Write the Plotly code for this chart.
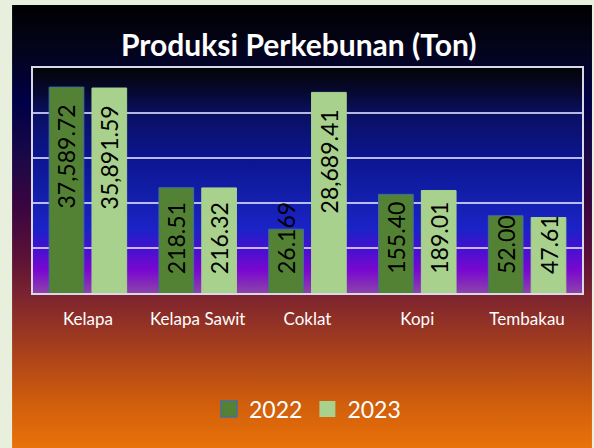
import base64
import math
import plotly.graph_objects as go

# ---------------- data ----------------
categories = ["Kelapa", "Kelapa Sawit", "Coklat", "Kopi", "Tembakau"]
values_2022 = [37589.72, 218.51, 26.169, 155.40, 52.00]
values_2023 = [35891.59, 216.32, 28689.41, 189.01, 47.61]
labels_2022 = ["37,589.72", "218.51", "26.169", "155.40", "52.00"]
labels_2023 = ["35,891.59", "216.32", "28,689.41", "189.01", "47.61"]
series_names = ["2022", "2023"]

# ---------------- styles ----------------
W, H = 594, 448
ML, MR, MT, MB = 33, 10, 68, 155
PW, PH = W - ML - MR, H - MT - MB
C2022, C2022_LINE = "#548235", "#41719C"
C2023 = "#A9D18E"
FONT = "Lato"
LABEL_SIZE = 23
BARGAP, BARGROUPGAP = 0.22, 0.19
DECADES = 5
PAD_TOP, PAD_BOT = 16, 18


def grad_uri(stops):
    s = "".join('<stop offset="%s" stop-color="%s"/>' % (o, c) for o, c in stops)
    svg = ('<svg xmlns="http://www.w3.org/2000/svg" width="10" height="100" '
           'viewBox="0 0 10 100" preserveAspectRatio="none"><defs>'
           '<linearGradient id="g" x1="0" y1="0" x2="0" y2="1">' + s +
           '</linearGradient></defs><rect width="10" height="100" fill="url(#g)"/></svg>')
    return "data:image/svg+xml;base64," + base64.b64encode(svg.encode()).decode()


chart_grad = grad_uri([
    ("0", "#000000"), ("0.1", "#04041c"), ("0.22", "#000048"), ("0.34", "#1a0848"),
    ("0.45", "#380540"), ("0.56", "#581038"), ("0.65", "#7a2230"),
    ("0.78", "#a8401c"), ("0.9", "#d05e0c"), ("1", "#ea720a"),
])
plot_grad = grad_uri([
    ("0", "#040408"), ("0.1", "#06082e"), ("0.2", "#0a1060"), ("0.4", "#0c1590"),
    ("0.6", "#1420b0"), ("0.72", "#1c22c8"), ("0.8", "#4410d0"),
    ("0.9", "#7a08d0"), ("1", "#8c44a8"),
])

fig = go.Figure()

fig.add_trace(go.Bar(
    x=categories, y=values_2022, name=series_names[0], showlegend=False,
    marker=dict(color=C2022, line=dict(color=C2022_LINE, width=1)),
))
fig.add_trace(go.Bar(
    x=categories, y=values_2023, name=series_names[1], showlegend=False,
    marker=dict(color=C2023, line=dict(color=C2023, width=1)),
))

# legend entries with larger square swatches
fig.add_trace(go.Scatter(
    x=[None], y=[None], mode="markers", name=series_names[0],
    marker=dict(symbol="square", size=16, color=C2022, line=dict(color=C2022_LINE, width=1.5)),
))
fig.add_trace(go.Scatter(
    x=[None], y=[None], mode="markers", name=series_names[1],
    marker=dict(symbol="square", size=16, color=C2023, line=dict(width=0)),
))


# ---------------- data labels (Excel-like "inside end", kept inside plot) ----------------
def est_len(s, size=LABEL_SIZE):
    return sum((0.58 if ch.isdigit() else 0.25) for ch in s) * size


px_per_decade = PH / DECADES
slot = PW / len(categories) * (1 - BARGAP) / 2
annotations = []
for si, (vals, labs) in enumerate([(values_2022, labels_2022), (values_2023, labels_2023)]):
    dx = (si - 0.5) * slot
    for cat, v, lab in zip(categories, vals, labs):
        bar_px = math.log10(v) * px_per_decade
        if bar_px - PAD_TOP - est_len(lab) >= PAD_BOT:
            y, yanchor, yshift = math.log10(v), "top", -PAD_TOP
        else:
            y, yanchor, yshift = 0, "bottom", PAD_BOT
        annotations.append(dict(
            x=cat, y=y, xref="x", yref="y", text=lab, showarrow=False,
            textangle=-90, xanchor="center", yanchor=yanchor,
            xshift=dx, yshift=yshift, borderpad=0,
            font=dict(family=FONT, size=LABEL_SIZE, color="black"),
        ))

fig.update_layout(
    width=W, height=H,
    margin=dict(l=ML, r=MR, t=MT, b=MB, pad=0),
    paper_bgcolor="#E8F0DD",
    plot_bgcolor="rgba(0,0,0,0)",
    barmode="group", bargap=BARGAP, bargroupgap=BARGROUPGAP,
    font=dict(family=FONT, color="white"),
    title=dict(
        text="<b>Produksi Perkebunan (Ton)</b>",
        font=dict(family=FONT, size=30, color="white"),
        x=0.503, xref="container", xanchor="center",
        y=1 - 45 / H, yref="container", yanchor="middle",
    ),
    showlegend=True,
    legend=dict(
        orientation="h", x=0.5, xanchor="center",
        y=(MT + PH - 409) / PH, yanchor="middle",
        font=dict(family=FONT, size=23, color="white"),
        bgcolor="rgba(0,0,0,0)", itemsizing="trace",
        traceorder="normal",
    ),
    annotations=annotations,
    images=[
        dict(source=chart_grad, xref="paper", yref="paper",
             x=(12 - ML) / PW, y=(MT + PH - 5) / PH,
             sizex=(W - 12) / PW, sizey=(H - 5) / PH,
             xanchor="left", yanchor="top", sizing="stretch", layer="below"),
        dict(source=plot_grad, xref="paper", yref="paper",
             x=0, y=1, sizex=1, sizey=1,
             xanchor="left", yanchor="top", sizing="stretch", layer="below"),
    ],
)

fig.update_xaxes(
    showline=True, mirror=True, linecolor="#D8D8E6", linewidth=2,
    showgrid=False, ticks="", ticklabelstandoff=10,
    tickfont=dict(family=FONT, size=17, color="white"),
)
fig.update_yaxes(
    type="log", range=[0, DECADES], dtick=1, showticklabels=False, ticks="",
    showgrid=True, gridcolor="rgba(215,215,250,0.85)", gridwidth=1.5,
    showline=True, mirror=True, linecolor="#D8D8E6", linewidth=2,
    zeroline=False,
)

fig.write_html(
    "out.html",
    config={"displayModeBar": False},
    post_script="document.body.style.margin='0';document.body.style.padding='0';",
)
